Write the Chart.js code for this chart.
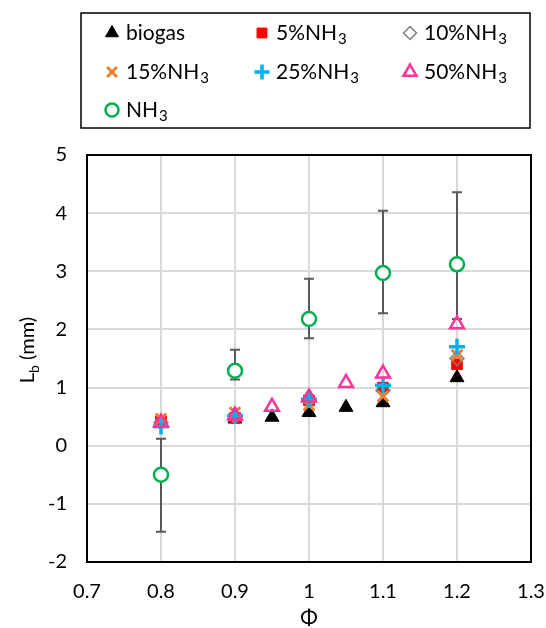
<!DOCTYPE html>
<html>
<head>
<meta charset="utf-8">
<script src="https://cdn.jsdelivr.net/npm/chart.js@4.4.1/dist/chart.umd.min.js"></script>
<style>
  html, body { margin: 0; padding: 0; background: #fff; }
  #wrap { width: 546px; height: 628px; position: relative; }
</style>
</head>
<body>
<div id="wrap"><canvas id="chart" width="546" height="628"></canvas></div>
<script>
// equivalence ratio values
const phiMain = [0.8, 0.9, 1.0, 1.1, 1.2];
const phiFull = [0.8, 0.9, 0.95, 1.0, 1.05, 1.1, 1.2];

// Lb (mm) per fuel blend
const biogas = [0.38, 0.46, 0.49, 0.57, 0.66, 0.74, 1.17];
const nh3_5 = [0.42, 0.48, 0.78, 1.0, 1.4];
const nh3_10 = [0.40, 0.50, 0.78, 0.95, 1.5];
const nh3_15 = [0.46, 0.57, 0.70, 0.85, 1.56];
const nh3_25 = [0.33, 0.52, 0.80, 1.04, 1.70];
const nh3_50 = [0.40, 0.52, 0.67, 0.83, 1.08, 1.24, 2.09];
const nh3 = [-0.50, 1.29, 2.18, 2.97, 3.12];
const nh3Low = [-1.48, 1.14, 1.85, 2.28, 2.18];
const nh3High = [0.12, 1.65, 2.87, 4.04, 4.36];

const xTicks = [0.7, 0.8, 0.9, 1.0, 1.1, 1.2, 1.3];
const yTicks = [-2, -1, 0, 1, 2, 3, 4, 5];

const FONT = 'Lato, "Open Sans", sans-serif';

function pts(xs, ys) {
    return xs.map((x, i) => ({ x: x, y: ys[i] }));
}

// marker styles (shared by plot and legend)
const seriesDefs = [
    { label: 'biogas', data: pts(phiFull, biogas), pointStyle: 'triangle', radius: 8, bg: '#000000', border: '#000000', bw: 1 },
    { label: '5%NH3', data: pts(phiMain, nh3_5), pointStyle: 'rect', radius: 7.5, bg: '#ff0000', border: '#ff0000', bw: 1 },
    { label: '10%NH3', data: pts(phiMain, nh3_10), pointStyle: 'rectRot', radius: 7, bg: 'rgba(0,0,0,0)', border: '#7f7f7f', bw: 1.5 },
    { label: '15%NH3', data: pts(phiMain, nh3_15), pointStyle: 'crossRot', radius: 7.5, bg: '#ed7d31', border: '#ed7d31', bw: 3 },
    { label: '25%NH3', data: pts(phiMain, nh3_25), pointStyle: 'cross', radius: 8, bg: '#00b0f0', border: '#00b0f0', bw: 3.5 },
    { label: '50%NH3', data: pts(phiFull, nh3_50), pointStyle: 'triangle', radius: 8, bg: 'rgba(255,255,255,0.01)', border: '#ff3399', bw: 2.5 },
    { label: 'NH3', data: pts(phiMain, nh3), pointStyle: 'circle', radius: 7, bg: '#ffffff', border: '#00b050', bw: 2.5 }
];

// draws "xxNH3" with the 3 as a subscript
function drawSubLabel(ctx, text, x, y, size) {
    let main = text, sub = '';
    if (/NH3$/.test(text)) { main = text.slice(0, -1); sub = '3'; }
    ctx.font = size + 'px ' + FONT;
    ctx.textAlign = 'left';
    ctx.textBaseline = 'middle';
    ctx.fillStyle = '#000';
    ctx.fillText(main, x, y);
    if (sub) {
        const w = ctx.measureText(main).width;
        ctx.font = Math.round(size * 0.7) + 'px ' + FONT;
        ctx.fillText(sub, x + w + 1, y + size * 0.3);
    }
}

const errorBars = {
    id: 'errorBars',
    beforeDatasetsDraw(chart) {
        const ctx = chart.ctx;
        const xs = chart.scales.x, ys = chart.scales.y;
        ctx.save();
        ctx.strokeStyle = '#595959';
        ctx.lineWidth = 2;
        phiMain.forEach((p, i) => {
            const px = xs.getPixelForValue(p);
            const y1 = ys.getPixelForValue(nh3Low[i]);
            const y2 = ys.getPixelForValue(nh3High[i]);
            ctx.beginPath();
            ctx.moveTo(px, y1); ctx.lineTo(px, y2);
            ctx.moveTo(px - 5, y1); ctx.lineTo(px + 5, y1);
            ctx.moveTo(px - 5, y2); ctx.lineTo(px + 5, y2);
            ctx.stroke();
        });
        ctx.restore();
    }
};

const frameAndLabels = {
    id: 'frameAndLabels',
    beforeDatasetsDraw(chart) {
        const ctx = chart.ctx;
        const a = chart.chartArea;
        ctx.save();
        ctx.strokeStyle = '#000';
        ctx.lineWidth = 2;
        ctx.strokeRect(a.left, a.top, a.right - a.left, a.bottom - a.top);
        ctx.restore();
    },
    afterDraw(chart) {
        const ctx = chart.ctx;
        const a = chart.chartArea;
        ctx.save();
        // x title
        ctx.fillStyle = '#000';
        ctx.font = '21px ' + FONT;
        ctx.textAlign = 'center';
        ctx.textBaseline = 'middle';
        ctx.fillText('\u03A6', (a.left + a.right) / 2, 618);

        // y title: L_b (mm)
        ctx.translate(28, 350);
        ctx.rotate(-Math.PI / 2);
        ctx.font = '20px ' + FONT;
        const wL = ctx.measureText('L').width;
        ctx.font = '14px ' + FONT;
        const wb = ctx.measureText('b').width;
        ctx.font = '20px ' + FONT;
        const wRest = ctx.measureText(' (mm)').width;
        let x0 = -(wL + wb + wRest) / 2;
        ctx.textAlign = 'left';
        ctx.fillText('L', x0, 0);
        ctx.font = '14px ' + FONT;
        ctx.fillText('b', x0 + wL, 6);
        ctx.font = '20px ' + FONT;
        ctx.fillText(' (mm)', x0 + wL + wb, 0);
        ctx.restore();

        // legend box
        ctx.save();
        ctx.strokeStyle = '#000';
        ctx.lineWidth = 1.5;
        ctx.strokeRect(81, 13, 449, 115);
        const colX = [112, 262, 410];
        const rowY = [33, 72, 110];
        seriesDefs.forEach((s, i) => {
            const cx = colX[i % 3], cy = rowY[Math.floor(i / 3)];
            ctx.fillStyle = s.bg;
            ctx.strokeStyle = s.border;
            ctx.lineWidth = s.bw;
            Chart.helpers.drawPoint(ctx, { pointStyle: s.pointStyle, radius: s.radius - 0.5, rotation: 0, borderWidth: s.bw }, cx, cy);
            drawSubLabel(ctx, s.label, cx + 14, cy, 21);
        });
        ctx.restore();
    }
};

const datasets = seriesDefs.map((s, i) => ({
    label: s.label,
    data: s.data,
    pointStyle: s.pointStyle,
    pointRadius: s.radius,
    pointHoverRadius: s.radius,
    backgroundColor: s.bg,
    borderColor: s.border,
    borderWidth: s.bw,
    showLine: false,
    order: seriesDefs.length - i
}));

new Chart(document.getElementById('chart'), {
    type: 'scatter',
    data: { datasets: datasets },
    plugins: [errorBars, frameAndLabels],
    options: {
        responsive: false,
        animation: false,
        layout: { padding: { top: 155, right: 15, left: 0, bottom: 0 } },
        plugins: {
            legend: { display: false },
            tooltip: { enabled: false }
        },
        scales: {
            x: {
                type: 'linear',
                min: 0.7,
                max: 1.3,
                afterBuildTicks: (scale) => { scale.ticks = xTicks.map(v => ({ value: v })); },
                afterFit: (scale) => {
                    scale.height = 66;
                    scale.paddingLeft = 0;
                    scale.paddingRight = 0;
                },
                grid: { color: '#d9d9d9', lineWidth: 2, drawTicks: false },
                border: { display: false },
                ticks: {
                    padding: 18,
                    color: '#000',
                    font: { family: FONT, size: 20 },
                    callback: (v) => String(Math.round(v * 10) / 10)
                }
            },
            y: {
                type: 'linear',
                min: -2,
                max: 5,
                afterBuildTicks: (scale) => { scale.ticks = yTicks.map(v => ({ value: v })); },
                afterFit: (scale) => {
                    scale.width = 87;
                    scale.paddingTop = 0;
                    scale.paddingBottom = 0;
                },
                grid: { color: '#d9d9d9', lineWidth: 2, drawTicks: false },
                border: { display: false },
                ticks: {
                    padding: 20,
                    color: '#000',
                    font: { family: FONT, size: 20 }
                }
            }
        }
    }
});
</script>
</body>
</html>
